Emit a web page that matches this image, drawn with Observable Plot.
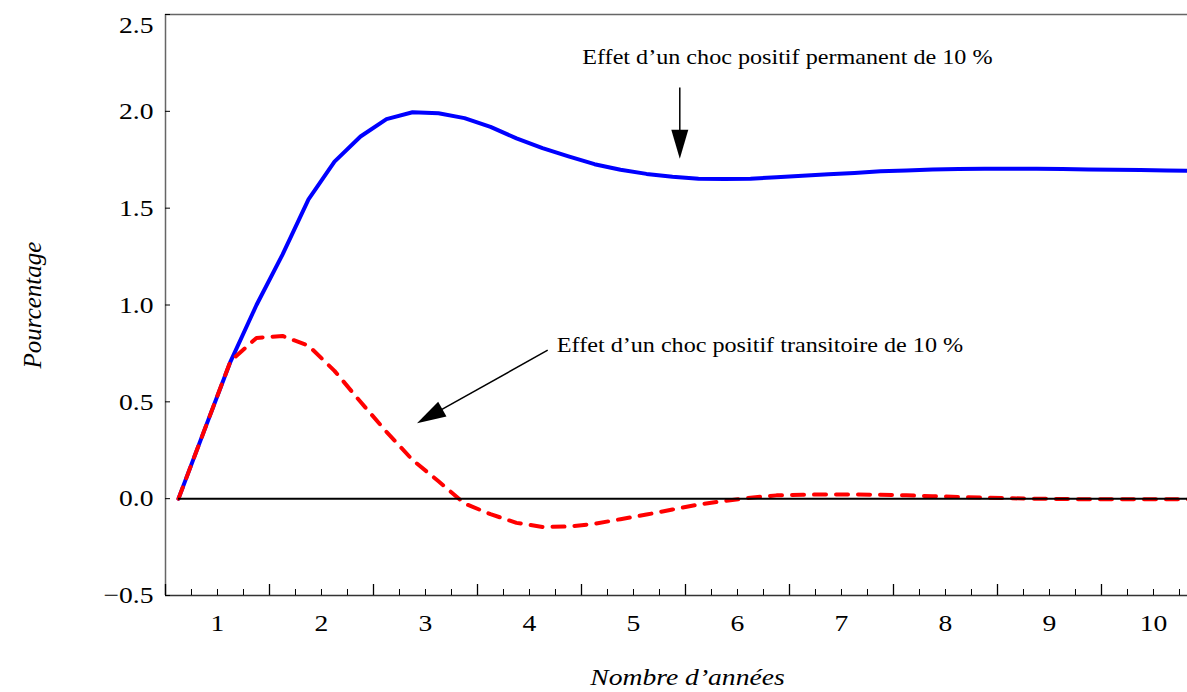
<!DOCTYPE html>
<html><head><meta charset="utf-8">
<script src="https://cdn.jsdelivr.net/npm/d3@7"></script>
<script src="https://cdn.jsdelivr.net/npm/@observablehq/plot@0.6"></script>
<style>body{margin:0;background:#fff} svg{display:block}</style>
</head><body><div id="chart"></div>
<script>
// Horizon in years (quarterly observations)
const years = [0.625, 0.875, 1.125, 1.375, 1.625, 1.875, 2.125, 2.375, 2.625, 2.875,
  3.125, 3.375, 3.625, 3.875, 4.125, 4.375, 4.625, 4.875, 5.125, 5.375,
  5.625, 5.875, 6.125, 6.375, 6.625, 6.875, 7.125, 7.375, 7.625, 7.875,
  8.125, 8.375, 8.625, 8.875, 9.125, 9.375, 9.625, 9.875, 10.125, 10.375];
// Effect of a permanent positive shock of 10 % (percent)
const permanent = [0, 0.355, 0.708, 1.00, 1.26, 1.545, 1.74, 1.87, 1.96, 1.995,
  1.99, 1.965, 1.92, 1.86, 1.81, 1.767, 1.727, 1.698, 1.677, 1.662,
  1.652, 1.65, 1.652, 1.66, 1.667, 1.675, 1.682, 1.69, 1.695, 1.70,
  1.702, 1.703, 1.703, 1.703, 1.702, 1.70, 1.699, 1.697, 1.695, 1.693];
// Effect of a transitory positive shock of 10 % (percent)
const transitoire = [0, 0.355, 0.71, 0.83, 0.84, 0.79, 0.66, 0.50, 0.345, 0.20,
  0.09, -0.025, -0.08, -0.125, -0.146, -0.144, -0.13, -0.106, -0.082, -0.056,
  -0.03, -0.012, 0.005, 0.017, 0.02, 0.022, 0.022, 0.02, 0.017, 0.013,
  0.009, 0.005, 0.002, 0, -0.002, -0.003, -0.003, -0.003, -0.003, -0.003];

const xDomain = [0.5, 10.327];
const yDomain = [-0.5, 2.5];
const xLabelTicks = [1, 2, 3, 4, 5, 6, 7, 8, 9, 10];
const xMajorTicks = [0.5, 1.5, 2.5, 3.5, 4.5, 5.5, 6.5, 7.5, 8.5, 9.5];
const xMinorTicks = [0.75, 1, 1.25, 1.75, 2, 2.25, 2.75, 3, 3.25, 3.75, 4, 4.25,
  4.75, 5, 5.25, 5.75, 6, 6.25, 6.75, 7, 7.25, 7.75, 8, 8.25, 8.75, 9, 9.25,
  9.75, 10, 10.25];
const yTicks = [-0.5, 0, 0.5, 1, 1.5, 2, 2.5];

const xTitle = "Nombre d’années";
const yTitle = "Pourcentage";
const notes = [
  {x: 6.48, y: 2.277, text: "Effet d’un choc positif permanent de 10 %"},
  {x: 6.216, y: 0.79, text: "Effet d’un choc positif transitoire de 10 %"}
];
const arrows = [
  {x1: 5.45, y1: 2.12, x2: 5.45, y2: 1.753},
  {x1: 4.18, y1: 0.764, x2: 2.923, y2: 0.387}
];

const permRows = years.map((t, i) => ({t, v: permanent[i]}));
const tranRows = years.map((t, i) => ({t, v: transitoire[i]}));

const W = 1187, H = 692;
const mL = 165, mR = 0, mT = 14, mB = 97;
const innerW = W - mL - mR, innerH = H - mT - mB;
const font = "'Liberation Serif', 'Times New Roman', Times, serif";
const stretch = 1.15; // the reference glyphs are drawn wider than tall

function arrowMark(index, scales) {
  const {x, y} = scales;
  const g = d3.create("svg:g");
  for (const a of arrows) {
    const X1 = x(a.x1), Y1 = y(a.y1), X2 = x(a.x2), Y2 = y(a.y2);
    const dx = X2 - X1, dy = Y2 - Y1, len = Math.hypot(dx, dy);
    const ux = dx / len, uy = dy / len;
    const hl = 29, hw = 8.5;
    const bx = X2 - ux * hl, by = Y2 - uy * hl;
    g.append("line").attr("x1", X1).attr("y1", Y1)
      .attr("x2", bx + ux * 2).attr("y2", by + uy * 2)
      .attr("stroke", "#000").attr("stroke-width", 1.5);
    g.append("path")
      .attr("d", `M${X2},${Y2}L${bx - uy * hw},${by + ux * hw}L${bx + uy * hw},${by - ux * hw}Z`)
      .attr("fill", "#000");
  }
  return g.node();
}

const chart = Plot.plot({
  width: W, height: H,
  marginLeft: mL, marginRight: mR, marginTop: mT, marginBottom: mB,
  style: {fontFamily: font, background: "#fff", color: "#000"},
  x: {domain: xDomain, axis: null},
  y: {domain: yDomain, axis: null},
  marks: [
    // frame lines
    Plot.ruleX([xDomain[0]], {stroke: "#666", strokeWidth: 1.5}),
    Plot.ruleY([yDomain[1]], {stroke: "#666", strokeWidth: 1.5}),
    Plot.ruleY([yDomain[0]], {stroke: "#333", strokeWidth: 1.5}),
    // x ticks (inward)
    Plot.tickX(xMajorTicks, {x: d => d, insetTop: innerH - 11, stroke: "#000", strokeWidth: 1.3}),
    Plot.tickX(xMinorTicks, {x: d => d, insetTop: innerH - 6, stroke: "#000", strokeWidth: 1}),
    // y ticks (inward)
    Plot.tickY(yTicks, {y: d => d, insetRight: innerW - 5, stroke: "#000", strokeWidth: 1}),
    // tick labels
    Plot.axisX(xLabelTicks, {tickSize: 0, tickPadding: 18, fontSize: 24, tickFormat: d => String(d), fill: "#000"}),
    Plot.axisY(yTicks.filter(d => d !== 2.5), {tickSize: 0, tickPadding: 12, fontSize: 24, tickFormat: d3.format(".1f"), fill: "#000"}),
    Plot.axisY([2.5], {tickSize: 0, tickPadding: 12, fontSize: 24, dy: 11, tickFormat: d3.format(".1f"), fill: "#000"}),
    // curves
    Plot.line(permRows, {x: "t", y: "v", stroke: "#0000ff", strokeWidth: 4, curve: "linear", clip: true}),
    Plot.line(tranRows, {x: "t", y: "v", stroke: "#ff0000", strokeWidth: 4, strokeDasharray: "12,10", curve: "linear", clip: true}),
    // zero line
    Plot.ruleY([0], {x1: years[0], x2: xDomain[1], stroke: "#000", strokeWidth: 2}),
    // annotations
    Plot.text(notes, {x: "x", y: "y", text: "text", fontSize: 21, fill: "#000"}),
    arrowMark,
    // axis titles
    Plot.text([xTitle], {frameAnchor: "bottom", dy: 82, dx: 11, lineAnchor: "middle", textAnchor: "middle", fontSize: 24, fontStyle: "italic", fill: "#000"}),
    Plot.text([yTitle], {frameAnchor: "left", dx: -133, rotate: -90, lineAnchor: "middle", textAnchor: "middle", fontSize: 25, fontStyle: "italic", fill: "#000"})
  ]
});

// widen the glyphs horizontally around their anchor, as in the reference
d3.select(chart).selectAll("text").each(function() {
  const t = this.getAttribute("transform");
  if (!t || t.includes("rotate")) return;
  this.setAttribute("transform", `${t} scale(${stretch},1)`);
});

document.getElementById("chart").appendChild(chart);
</script>
</body></html>
